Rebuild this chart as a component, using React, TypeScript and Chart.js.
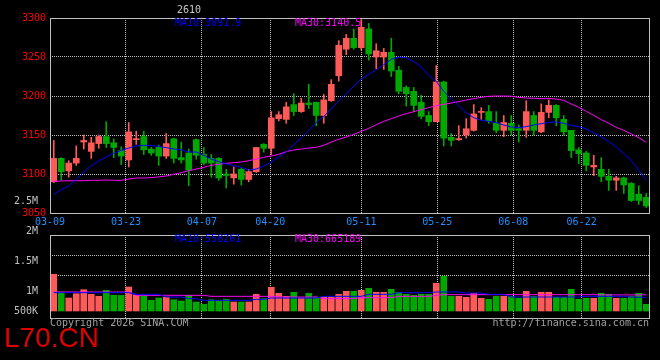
import React, { useEffect, useRef } from 'react';
import { Chart, registerables } from 'chart.js';

Chart.register(...registerables);

// ---------- data ----------
const DATES = [
  '03-09','03-10','03-11','03-12','03-13','03-16','03-17','03-18','03-19','03-20',
  '03-23','03-24','03-25','03-26','03-27','03-30','03-31',
  '04-01','04-02','04-03','04-07','04-08','04-09','04-10',
  '04-13','04-14','04-15','04-16','04-17',
  '04-20','04-21','04-22','04-23','04-24',
  '04-27','04-28','04-29','04-30',
  '05-06','05-07','05-08',
  '05-11','05-12','05-13','05-14','05-15',
  '05-18','05-19','05-20','05-21','05-22',
  '05-25','05-26','05-27','05-28','05-29',
  '06-01','06-02','06-03','06-04','06-05',
  '06-08','06-09','06-10','06-11','06-12',
  '06-15','06-16','06-17','06-18',
  '06-22','06-23','06-24','06-25','06-26',
  '06-29','06-30','07-01','07-02','07-03',
];

const OPEN = [
  3090,3120,3104,3114,3141,3129,3139,3148,3140,3130,
  3118,3144,3148,3132,3134,3123,3145,3121,3127,3144,
  3125,3120,3120,3100,3095,3106,3093,3103,3138,3133,
  3171,3170,3189,3180,3191,3192,3175,3194,3226,3260,
  3274,3262,3286,3250,3250,3256,3233,3211,3206,3192,
  3175,3167,3218,3147,3144,3150,3156,3179,3180,3165,
  3156,3165,3158,3156,3175,3154,3179,3188,3170,3156,
  3131,3127,3109,3106,3097,3092,3095,3088,3074,3070,
];
const HIGH = [
  3143,3121,3117,3136,3150,3147,3150,3167,3145,3135,
  3166,3155,3155,3134,3137,3152,3146,3141,3132,3145,
  3134,3125,3121,3106,3109,3107,3106,3134,3139,3180,
  3180,3192,3203,3197,3215,3192,3202,3221,3271,3279,
  3286,3298,3293,3267,3261,3274,3238,3213,3211,3201,
  3180,3239,3219,3152,3162,3171,3189,3185,3188,3180,
  3175,3175,3163,3194,3180,3190,3195,3189,3175,3156,
  3134,3129,3124,3121,3106,3097,3096,3089,3085,3075,
];
const LOW = [
  3089,3092,3096,3111,3132,3120,3133,3134,3121,3112,
  3109,3138,3125,3124,3111,3120,3114,3114,3085,3119,
  3112,3096,3092,3082,3087,3086,3090,3102,3128,3125,
  3168,3165,3175,3179,3184,3162,3165,3193,3219,3253,
  3260,3259,3246,3235,3234,3225,3203,3187,3180,3171,
  3162,3167,3136,3136,3143,3146,3155,3170,3165,3153,
  3148,3150,3141,3147,3150,3153,3172,3162,3150,3121,
  3113,3104,3098,3090,3079,3079,3075,3065,3061,3057,
];
const CLOSE = [
  3120,3103,3114,3120,3143,3140,3148,3139,3134,3123,
  3154,3145,3131,3127,3123,3139,3120,3118,3105,3124,
  3114,3114,3095,3098,3100,3093,3103,3134,3133,3172,
  3176,3186,3180,3191,3189,3175,3195,3215,3265,3274,
  3262,3288,3254,3258,3256,3232,3206,3203,3188,3174,
  3167,3218,3146,3143,3145,3158,3177,3180,3168,3156,
  3166,3156,3156,3180,3156,3179,3188,3172,3154,3130,
  3126,3111,3111,3097,3092,3095,3086,3066,3066,3059,
];

const MA10 = [
  3073.9,3079.9,3084.6,3093.2,3102.1,3110.7,3116.7,3121.8,3126.5,3130.3,
  3133.3,3135.9,3136.8,3136.3,3135.5,3133.8,3132.0,3130.8,3128.2,3128.2,
  3123.9,3119.2,3115.8,3112.8,3110.7,3108.5,3105.1,3106.4,3110.3,3115.4,
  3121.8,3127.8,3137.6,3146.2,3155.6,3166.2,3173.9,3183.3,3194.0,3203.0,
  3212.8,3221.8,3227.8,3233.8,3240.2,3247.0,3250.0,3249.1,3244.0,3237.2,
  3226.5,3218.8,3206.0,3196.2,3188.0,3178.2,3172.2,3168.8,3167.5,3165.8,
  3162.8,3160.3,3159.4,3160.7,3162.8,3164.5,3166.2,3166.7,3165.0,3162.4,
  3160.7,3157.7,3153.0,3147.4,3141.4,3134.6,3126.5,3117.1,3104.7,3091.9,
];
const MA30 = [
  3090.6,3091.0,3091.4,3091.4,3091.4,3091.9,3091.9,3092.3,3091.9,3091.9,
  3093.6,3094.9,3094.9,3095.3,3096.2,3097.4,3099.6,3101.7,3104.3,3106.4,
  3108.5,3111.1,3112.4,3113.7,3114.5,3115.4,3117.1,3119.2,3121.4,3123.1,
  3125.2,3128.6,3130.8,3132.0,3133.3,3134.2,3136.8,3141.0,3144.5,3147.4,
  3150.9,3154.7,3158.5,3163.2,3167.5,3170.9,3174.4,3177.3,3179.9,3182.5,
  3185.0,3187.6,3189.3,3191.0,3192.7,3194.9,3196.6,3198.3,3199.6,3200.0,
  3200.0,3199.6,3198.3,3197.4,3197.0,3196.6,3196.6,3196.2,3194.4,3189.7,
  3185.5,3180.3,3175.2,3169.7,3165.0,3159.8,3156.0,3151.3,3146.6,3140.5,
];

const VOLUME = [
  1505000,779000,533000,709000,873000,685000,603000,849000,644000,640000,
  984000,644000,615000,439000,533000,574000,463000,410000,644000,369000,
  275000,463000,439000,480000,369000,369000,369000,685000,504000,972000,
  726000,603000,767000,545000,726000,574000,574000,574000,685000,808000,
  808000,849000,931000,767000,767000,890000,767000,685000,644000,685000,
  685000,1136000,1423000,603000,603000,562000,726000,521000,480000,603000,
  603000,603000,521000,808000,603000,767000,767000,562000,562000,890000,
  480000,521000,521000,726000,685000,521000,521000,603000,726000,275000,
];
const VOL_MA10 = [
  752000,752000,752000,752000,752000,752000,752000,752000,752000,752000,
  752000,683000,683000,683000,683000,574000,574000,574000,506000,506000,
  437000,437000,437000,437000,437000,437000,437000,478000,478000,533000,
  533000,533000,533000,533000,533000,533000,601000,601000,601000,601000,
  601000,601000,683000,683000,683000,683000,752000,752000,752000,752000,
  752000,779000,779000,779000,779000,738000,738000,738000,683000,683000,
  683000,574000,574000,574000,574000,574000,574000,574000,574000,574000,
  574000,601000,601000,601000,601000,601000,601000,574000,565000,558261,
];
const VOL_MA30 = [
  779000,779000,779000,779000,779000,779000,779000,779000,779000,779000,
  779000,642000,642000,642000,642000,642000,642000,642000,642000,642000,
  642000,601000,601000,601000,601000,601000,601000,601000,601000,601000,
  574000,574000,574000,574000,574000,574000,506000,506000,506000,506000,
  506000,547000,547000,547000,547000,547000,601000,601000,601000,601000,
  601000,642000,670000,670000,670000,670000,670000,670000,670000,670000,
  670000,670000,670000,670000,670000,670000,670000,670000,670000,670000,
  670000,670000,670000,660000,660000,660000,660000,660000,660000,665189,
];

const PRICE_MIN = 3050;
const PRICE_MAX = 3300;
const PRICE_STEP = 50;
const DATE_TICK_INDEX = [0, 10, 20, 29, 41, 51, 61, 70];
const VOL_TICK_LABELS = ['2.5M', '2M', '1.5M', '1M', '500K'];
const VOL_TICK_POS = [2500000, 2000000, 1500000, 1000000, 666667];
const VOL_GRID_VALUES = [2296000, 1476000];

// ---------- styles ----------
const UP = '#ff5a5a';
const DOWN = '#00a800';
const GRID = '#c0c0c0';
const MONO = "'DejaVu Sans Mono', monospace";

const candleColors = CLOSE.map((c, i) => (c >= OPEN[i] ? UP : DOWN));

const framePlugin = {
  id: 'frame',
  afterDatasetsDraw(chart: any) {
    const { ctx, chartArea: a } = chart;
    ctx.save();
    ctx.strokeStyle = GRID;
    ctx.lineWidth = 1;
    ctx.setLineDash([]);
    ctx.strokeRect(Math.round(a.left) + 0.5, Math.round(a.top) + 0.5, Math.round(a.right - a.left) - 1, Math.round(a.bottom - a.top));
    ctx.restore();
  },
};

const xGridScale = (height: number, showLabels: boolean) => ({
  type: 'linear',
  position: 'bottom',
  min: 0,
  max: DATES.length - 1,
  offset: false,
  afterBuildTicks: (s: any) => {
    s.ticks = DATE_TICK_INDEX.map((v) => ({ value: v }));
  },
  afterFit: (s: any) => {
    s.height = height;
  },
  ticks: {
    display: showLabels,
    autoSkip: false,
    maxRotation: 0,
    minRotation: 0,
    padding: 3,
    color: '#1e90ff',
    font: { family: MONO, size: 10 },
    callback: (v: any) => DATES[v as number],
  },
  grid: {
    offset: false,
    color: (ctx: any) => (ctx.tick && ctx.tick.value > 0 ? GRID : 'rgba(0,0,0,0)'),
    drawTicks: false,
    lineWidth: 1,
  },
  border: { display: false, dash: [1, 1] },
});

function PriceChart() {
  const ref = useRef<HTMLCanvasElement>(null);
  useEffect(() => {
    const chart = new Chart(ref.current as HTMLCanvasElement, {
      type: 'bar',
      data: {
        labels: DATES,
        datasets: [
          { type: 'line', label: 'MA10', data: MA10, borderColor: '#0000ff', borderWidth: 1, pointRadius: 0, tension: 0, xAxisID: 'x', yAxisID: 'y', order: 0 } as any,
          { type: 'line', label: 'MA30', data: MA30, borderColor: '#ff00ff', borderWidth: 1, pointRadius: 0, tension: 0, xAxisID: 'x', yAxisID: 'y', order: 0 } as any,
          { type: 'bar', label: 'body', data: OPEN.map((o, i) => [o, CLOSE[i]]), backgroundColor: candleColors, barThickness: 6, minBarLength: 1, grouped: false, xAxisID: 'x', yAxisID: 'y', order: 1 } as any,
          { type: 'bar', label: 'wick', data: LOW.map((l, i) => [l, HIGH[i]]), backgroundColor: candleColors, barThickness: 1, grouped: false, xAxisID: 'x', yAxisID: 'y', order: 2 } as any,
        ],
      },
      options: {
        responsive: false,
        animation: false,
        devicePixelRatio: 1,
        events: [],
        layout: { padding: { top: 18, right: 10, bottom: 0, left: 0 } },
        plugins: { legend: { display: false }, tooltip: { enabled: false } },
        scales: {
          x: { type: 'category', display: false, offset: true },
          xg: xGridScale(19, true),
          y: {
            type: 'linear',
            position: 'left',
            min: PRICE_MIN,
            max: PRICE_MAX,
            afterFit: (s: any) => {
              s.width = 50;
            },
            ticks: {
              stepSize: PRICE_STEP,
              autoSkip: false,
              color: '#ff0000',
              padding: 4,
              font: { family: MONO, size: 10 },
              callback: (v: any) => String(v),
            },
            grid: {
              color: (ctx: any) => (ctx.tick && ctx.tick.value > PRICE_MIN && ctx.tick.value < PRICE_MAX ? GRID : 'rgba(0,0,0,0)'),
              drawTicks: false,
            },
            border: { display: false, dash: [1, 1] },
          },
        } as any,
      },
      plugins: [framePlugin],
    });
    return () => chart.destroy();
  }, []);
  return <canvas ref={ref} width={660} height={232} style={{ position: 'absolute', left: 0, top: 0 }} />;
}

function VolumeChart() {
  const ref = useRef<HTMLCanvasElement>(null);
  useEffect(() => {
    const chart = new Chart(ref.current as HTMLCanvasElement, {
      type: 'bar',
      data: {
        labels: DATES,
        datasets: [
          { type: 'line', label: 'VMA10', data: VOL_MA10, borderColor: '#0000ff', borderWidth: 1, pointRadius: 0, tension: 0, xAxisID: 'x', yAxisID: 'yv', order: 0 } as any,
          { type: 'line', label: 'VMA30', data: VOL_MA30, borderColor: '#ff00ff', borderWidth: 1, pointRadius: 0, tension: 0, xAxisID: 'x', yAxisID: 'yv', order: 0 } as any,
          { type: 'bar', label: 'volume', data: VOLUME, backgroundColor: candleColors, barThickness: 6, xAxisID: 'x', yAxisID: 'yv', order: 1 } as any,
        ],
      },
      options: {
        responsive: false,
        animation: false,
        devicePixelRatio: 1,
        events: [],
        layout: { padding: { top: 45, right: 10, bottom: 12, left: 0 } },
        plugins: { legend: { display: false }, tooltip: { enabled: false } },
        scales: {
          x: { type: 'category', display: false, offset: true },
          xg: xGridScale(0, false),
          vlab: {
            type: 'linear',
            position: 'left',
            min: 550000,
            max: 1933333,
            afterBuildTicks: (s: any) => {
              s.ticks = VOL_TICK_POS.map((v) => ({ value: v }));
            },
            afterFit: (s: any) => {
              s.width = 50;
            },
            ticks: {
              autoSkip: false,
              color: '#c0c0c0',
              padding: 4,
              font: { family: MONO, size: 10 },
              callback: (_v: any, i: number) => VOL_TICK_LABELS[i],
            },
            grid: { display: false },
            border: { display: false },
          },
          yv: {
            type: 'linear',
            position: 'right',
            min: -287000,
            max: 3116000,
            afterBuildTicks: (s: any) => {
              s.ticks = VOL_GRID_VALUES.map((v) => ({ value: v }));
            },
            afterFit: (s: any) => {
              s.width = 0;
            },
            ticks: { display: false },
            grid: { color: GRID, drawTicks: false },
            border: { display: false, dash: [1, 1] },
          },
        } as any,
      },
      plugins: [framePlugin],
    });
    return () => chart.destroy();
  }, []);
  return <canvas ref={ref} width={660} height={140} style={{ position: 'absolute', left: 0, top: 190 }} />;
}

const txt = (extra: React.CSSProperties): React.CSSProperties => ({
  position: 'absolute',
  fontFamily: MONO,
  fontSize: 10,
  lineHeight: '12px',
  whiteSpace: 'pre',
  ...extra,
});

export default function App() {
  return (
    <div style={{ position: 'fixed', left: 0, top: 0, width: 660, height: 360, background: '#000', overflow: 'hidden' }}>
      <PriceChart />
      <VolumeChart />
      <div style={txt({ left: 177, top: 4, color: '#c8c8c8' })}>2610</div>
      <div style={txt({ left: 175, top: 17, color: '#0000ff' })}>MA10:3091.9</div>
      <div style={txt({ left: 295, top: 17, color: '#ff00ff' })}>MA30:3140.5</div>
      <div style={txt({ left: 175, top: 233, color: '#0000ff' })}>MA10:558261</div>
      <div style={txt({ left: 295, top: 233, color: '#ff00ff' })}>MA30:665189</div>
      <div style={txt({ left: 50, top: 317, color: '#a0a0a0' })}>Copyright 2026 SINA.COM</div>
      <div style={txt({ right: 11, top: 317, color: '#a0a0a0' })}>http://finance.sina.com.cn</div>
      <div
        style={{
          position: 'absolute',
          left: 4,
          top: 322,
          fontFamily: "'Liberation Sans', Arial, sans-serif",
          fontSize: 28,
          lineHeight: '32px',
          color: '#e00000',
        }}
      >
        L70.CN
      </div>
    </div>
  );
}
